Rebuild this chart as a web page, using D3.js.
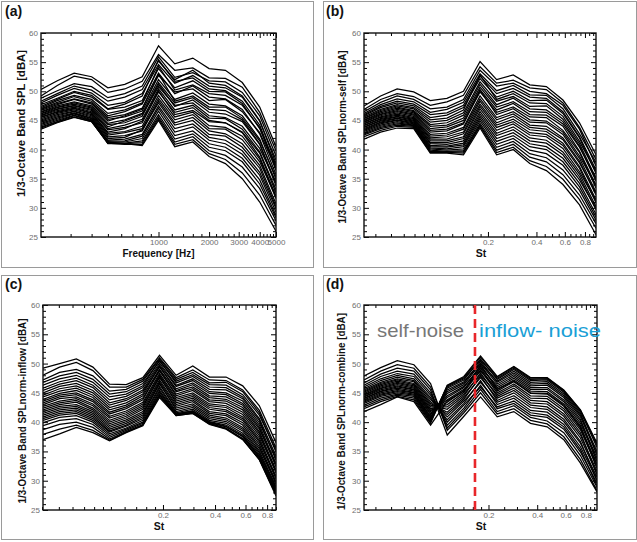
<!DOCTYPE html>
<html><head><meta charset="utf-8">
<script src="https://cdn.jsdelivr.net/npm/d3@7"></script>
<style>
body{margin:0;background:#fff}
svg{display:block}
text{font-family:"Liberation Sans",Arial,Helvetica,sans-serif}
</style>
</head><body>
<svg id="chart" width="637" height="542"></svg>
<script>
// ---------------- DATA ----------------
const freqA = [200,250,315,400,500,630,800,1000,1250,1600,2000,2500,3150,4000,5000];
const stB = [0.0340,0.0431,0.0546,0.0692,0.0877,0.1112,0.1409,0.1786,0.2264,0.2869,0.3636,0.4609,0.5841,0.7403,0.937];
const stC = [0.0405,0.0505,0.0631,0.0787,0.0982,0.1226,0.1530,0.1910,0.2383,0.2974,0.3712,0.4632,0.5781,0.7215,0.9004];
const stD = [0.0340,0.0431,0.0546,0.0692,0.0877,0.1112,0.1409,0.1786,0.2264,0.2869,0.3636,0.4609,0.5841,0.7403,0.937];

const splA = [
[50.3,51.8,53.1,52.5,50.6,51.2,52.5,57.8,54.7,55.7,53.9,53.6,51.5,47.3,40.5],
[49.2,51.0,52.6,52.0,49.8,50.4,51.7,56.3,53.6,54.0,52.3,52.2,50.7,46.4,39.8],
[48.8,50.1,51.3,50.8,48.9,49.6,50.9,55.9,52.4,53.2,51.8,51.6,49.8,45.8,38.9],
[48.3,49.6,50.9,50.2,48.3,49.0,50.3,55.2,52.0,53.6,51.4,51.0,49.2,45.0,37.6],
[48.0,49.3,50.5,49.7,47.6,48.1,49.6,54.6,51.4,52.7,50.9,50.6,49.0,44.9,38.2],
[47.7,48.8,50.0,49.3,47.0,47.8,49.2,55.4,51.7,52.3,50.4,50.1,48.3,44.2,36.9],
[47.4,48.6,49.8,49.0,46.9,47.3,48.4,53.9,50.6,51.8,50.0,49.9,47.9,43.6,37.3],
[47.2,48.4,49.3,48.6,46.2,46.8,48.0,54.3,50.2,51.1,49.6,49.3,47.6,43.8,36.4],
[47.0,48.1,49.1,48.3,45.8,46.5,47.8,53.1,49.6,50.9,49.0,48.7,46.9,42.7,35.7],
[46.9,47.9,48.7,48.0,45.5,46.0,47.1,52.7,49.9,50.4,48.4,48.6,46.5,42.9,36.8],
[46.7,47.7,48.6,47.8,45.2,45.6,46.6,52.0,48.6,49.7,47.8,47.5,45.8,41.8,34.9],
[46.5,47.5,48.2,47.5,44.9,45.8,46.9,53.0,48.3,49.2,47.3,47.3,45.4,41.5,35.3],
[46.4,47.3,48.0,47.3,44.5,45.1,46.2,51.5,48.0,48.9,46.9,46.7,45.1,41.0,34.2],
[46.2,47.2,47.8,47.1,44.3,44.6,45.7,51.2,47.4,48.5,46.4,46.1,44.8,40.9,33.8],
[46.1,47.0,47.6,46.9,43.9,44.9,46.0,50.8,47.6,48.0,45.8,45.5,44.0,40.2,34.4],
[45.9,46.9,47.5,46.7,43.6,44.2,45.2,50.4,46.8,47.6,45.4,45.3,43.5,39.6,33.1],
[45.8,46.7,47.3,46.5,43.4,43.8,44.6,49.9,46.4,47.2,45.0,44.6,43.0,39.4,32.6],
[45.6,46.5,47.1,46.3,43.0,43.6,44.9,50.1,46.0,46.7,44.8,44.6,42.9,38.7,32.0],
[45.5,46.4,47.0,46.2,42.8,43.1,44.0,49.3,45.6,46.4,44.1,43.8,42.3,38.4,31.6],
[45.3,46.2,46.8,46.0,42.5,42.9,43.6,48.8,45.1,46.0,43.6,43.5,41.7,37.9,31.9],
[45.1,46.0,46.6,45.8,42.2,42.4,43.2,48.4,44.6,45.5,43.2,42.7,41.0,37.3,30.7],
[44.9,45.8,46.5,45.6,41.9,42.1,43.4,48.0,44.2,45.0,42.6,42.3,40.4,36.8,30.2],
[44.7,45.6,46.3,45.4,41.6,41.8,42.6,47.5,43.6,44.4,42.1,41.6,39.8,36.1,29.9],
[44.5,45.4,46.2,45.3,41.4,41.5,42.3,47.1,43.0,43.9,41.6,41.0,39.2,35.6,29.3],
[44.3,45.2,46.1,45.1,41.2,41.3,41.9,46.6,42.4,43.2,41.0,40.4,38.5,34.8,28.7],
[44.1,45.0,45.9,45.0,41.1,41.1,41.5,46.0,41.8,42.7,40.4,39.8,37.9,34.1,28.3],
[43.9,44.8,45.8,44.9,41.0,41.0,41.2,45.6,41.3,42.2,39.8,39.0,37.0,33.3,27.8],
[43.7,44.7,45.6,44.8,41.1,40.9,40.9,45.3,40.9,41.7,39.3,38.3,36.0,32.2,27.0],
[43.5,44.6,45.5,44.8,41.2,41.0,40.7,45.0,40.5,41.3,38.8,37.6,35.0,31.0,26.0]
];

const splB = [
[47.5,49.2,50.4,49.9,48.4,48.8,50.0,55.1,52.0,52.8,51.1,50.8,48.5,44.6,39.1],
[46.9,48.6,49.6,49.1,47.6,48.2,49.3,54.2,51.4,51.9,50.6,50.3,48.0,43.8,38.3],
[46.5,48.1,49.2,48.6,47.0,47.3,48.6,53.6,50.9,51.4,50.0,49.6,47.6,43.5,37.2],
[46.2,47.7,48.7,48.2,46.4,46.9,48.1,53.0,50.1,51.0,49.4,49.3,47.0,42.7,37.8],
[46.0,47.4,48.3,47.8,46.0,46.3,47.6,52.6,49.6,50.5,49.0,48.8,46.5,42.2,36.5],
[45.8,47.2,48.0,47.5,45.5,45.9,47.2,52.2,49.0,50.0,48.4,48.5,46.2,42.0,35.9],
[45.6,46.9,47.7,47.2,45.1,45.4,46.8,52.8,48.6,49.6,48.0,47.9,45.7,41.4,36.2],
[45.4,46.7,47.5,47.0,44.7,45.0,46.3,51.6,48.3,49.1,47.4,47.5,45.2,41.0,35.1],
[45.3,46.5,47.3,46.7,44.3,44.6,45.9,51.2,47.7,48.8,47.0,46.8,44.8,40.6,34.6],
[45.1,46.3,47.1,46.5,44.0,44.2,45.4,50.7,47.3,48.2,46.5,46.4,44.4,40.4,35.0],
[45.0,46.1,46.9,46.3,43.6,43.9,45.0,50.3,46.8,47.9,46.0,45.9,44.0,39.7,33.9],
[44.8,46.0,46.7,46.1,43.3,43.5,44.6,49.9,46.4,47.3,45.6,45.5,43.3,39.5,33.4],
[44.7,45.8,46.5,45.9,43.0,43.2,44.4,50.2,46.0,47.0,45.1,44.9,43.0,38.9,33.8],
[44.5,45.6,46.3,45.7,42.6,42.8,43.8,49.2,45.5,46.5,44.7,44.6,42.6,38.5,32.7],
[44.4,45.5,46.1,45.5,42.3,42.5,43.5,48.7,45.1,46.1,44.2,44.0,42.0,38.0,32.2],
[44.2,45.3,45.9,45.3,42.0,42.2,43.0,48.3,44.6,45.7,43.8,43.5,41.7,37.7,32.5],
[44.1,45.2,45.7,45.2,41.8,41.8,42.7,47.8,44.2,45.2,43.4,43.1,41.1,37.1,31.4],
[43.9,45.0,45.6,45.0,41.5,41.5,42.2,47.4,43.8,44.8,42.9,42.6,40.7,36.8,30.9],
[43.8,44.9,45.4,44.9,41.2,41.2,41.9,47.0,43.3,44.4,42.5,42.2,40.2,36.2,31.2],
[43.6,44.7,45.3,44.7,41.0,40.9,41.5,46.5,42.8,43.9,42.0,41.6,39.6,35.8,30.2],
[43.4,44.6,45.1,44.6,40.7,40.6,41.1,46.1,42.4,43.4,41.5,41.1,39.1,35.3,29.7],
[43.3,44.4,45.0,44.4,40.5,40.4,40.8,45.7,41.9,42.9,41.0,40.5,38.5,34.8,29.9],
[43.1,44.2,44.8,44.3,40.3,40.1,40.5,45.3,41.4,42.4,40.5,40.0,37.9,34.2,28.9],
[42.9,44.0,44.6,44.2,40.1,39.9,40.1,44.9,40.9,41.9,39.9,39.3,37.3,33.6,28.4],
[42.7,43.8,44.4,44.1,39.9,39.7,39.8,44.5,40.4,41.4,39.3,38.6,36.5,33.0,27.9],
[42.5,43.6,44.2,44.0,39.7,39.6,39.6,44.2,39.9,40.9,38.7,37.9,35.7,32.2,27.3],
[42.2,43.3,44.0,43.8,39.5,39.5,39.4,44.0,39.5,40.4,38.1,37.1,34.9,31.4,26.5],
[41.8,43.0,43.7,43.6,39.4,39.4,39.1,43.7,39.1,40.0,37.6,36.4,34.0,30.5,25.4]
];

const splC = [
[49.2,50.0,50.8,49.4,46.5,46.4,47.6,51.4,48.0,49.6,47.7,47.7,46.2,42.8,36.5],
[48.0,49.4,50.2,48.8,46.0,46.0,47.3,51.0,47.6,48.9,47.2,47.1,45.5,42.0,35.6],
[47.2,48.5,49.0,47.9,45.3,45.6,47.0,50.8,47.3,48.5,46.7,46.8,45.2,41.6,34.9],
[46.8,47.9,48.5,47.3,44.8,45.2,46.6,50.4,47.0,48.1,46.4,46.3,44.7,41.2,35.2],
[46.3,47.4,48.0,46.8,44.3,44.8,46.2,50.6,46.7,47.8,46.0,45.9,44.3,40.6,34.2],
[45.8,46.9,47.5,46.3,43.8,44.4,45.9,50.1,46.3,47.4,45.6,45.5,44.0,40.3,33.5],
[45.4,46.5,47.1,45.9,43.3,44.0,45.5,49.8,46.1,47.1,45.2,45.0,43.6,39.9,33.9],
[45.0,46.1,46.6,45.4,42.9,43.7,45.2,49.4,45.7,46.7,44.9,44.7,43.2,39.5,32.9],
[44.6,45.7,46.2,45.0,42.5,43.3,44.8,49.6,45.4,46.4,44.5,44.3,42.9,39.1,32.4],
[44.3,45.3,45.8,44.6,42.1,42.9,44.5,49.0,45.2,46.0,44.2,43.9,42.5,38.8,32.8],
[43.9,44.9,45.4,44.2,41.7,42.6,44.1,48.7,44.8,45.7,43.8,43.6,42.1,38.4,31.8],
[43.6,44.6,45.0,43.8,41.4,42.3,43.8,48.9,44.5,45.4,43.5,43.2,41.7,38.1,31.3],
[43.3,44.3,44.7,43.5,41.0,41.9,43.4,48.3,44.2,45.0,43.1,42.8,41.3,37.7,31.6],
[43.0,44.0,44.3,43.1,40.7,41.6,43.1,48.0,43.9,44.7,42.8,42.5,40.9,37.3,30.7],
[42.7,43.6,44.0,42.8,40.3,41.3,42.8,47.6,43.6,44.4,42.5,42.1,40.6,36.9,30.3],
[42.4,43.3,43.7,42.4,40.0,41.0,42.5,47.8,43.3,44.1,42.2,41.8,40.3,36.6,30.6],
[42.1,43.0,43.4,42.1,39.7,40.7,42.2,47.2,43.0,43.8,41.8,41.4,39.9,36.2,29.8],
[41.8,42.7,43.0,41.8,39.4,40.4,41.8,46.9,42.7,43.5,41.5,41.1,39.5,35.8,29.4],
[41.5,42.4,42.7,41.5,39.1,40.1,41.5,46.5,42.4,43.1,41.2,40.7,39.1,35.5,29.7],
[41.2,42.1,42.4,41.2,38.8,39.8,41.2,46.7,42.1,42.8,40.9,40.4,38.8,35.1,29.0],
[40.9,41.8,42.1,40.9,38.5,39.5,40.9,46.1,41.8,42.5,40.6,40.1,38.5,34.8,28.6],
[40.6,41.5,41.8,40.6,38.3,39.3,40.6,45.8,41.6,42.2,40.3,39.8,38.1,34.5,28.9],
[40.3,41.2,41.5,40.3,38.0,39.0,40.3,45.4,41.4,41.9,40.1,39.5,37.8,34.2,28.2],
[39.9,40.8,41.1,40.0,37.7,38.8,40.0,45.1,41.3,41.7,39.9,39.2,37.5,33.9,27.8],
[39.4,40.3,40.6,39.6,37.4,38.6,39.8,44.8,41.2,41.6,39.8,39.0,37.2,33.7,28.1],
[38.7,39.6,40.0,39.1,37.1,38.4,39.6,44.5,41.1,41.5,39.7,38.9,37.1,33.6,27.6],
[37.9,38.8,39.5,38.6,36.9,38.3,39.5,44.6,41.4,41.9,40.0,39.3,37.6,34.1,28.4],
[37.0,38.0,39.1,38.2,36.8,38.2,39.4,44.2,41.1,41.5,39.6,38.8,37.0,33.6,27.4]
];

const splD = [
[47.9,49.3,50.5,49.8,46.6,38.6,41.6,45.0,41.4,42.3,40.3,39.7,37.5,33.6,28.3],
[47.2,48.7,49.8,49.2,46.0,39.0,42.0,45.6,41.8,42.8,40.8,40.2,38.2,34.3,28.9],
[46.7,48.2,49.2,48.7,45.5,37.8,41.0,44.3,40.9,41.8,39.8,39.2,37.0,33.0,28.1],
[46.3,47.8,48.7,48.2,45.0,39.5,42.4,46.3,42.3,43.2,41.2,40.8,38.8,34.9,29.6],
[46.0,47.4,48.3,47.8,44.6,40.0,42.9,46.0,42.6,43.6,41.6,41.2,39.2,35.3,29.2],
[45.7,47.1,48.0,47.4,44.2,40.4,43.2,47.1,43.0,44.1,42.0,41.7,39.6,35.8,30.1],
[45.5,46.8,47.7,47.1,43.9,40.9,43.6,46.8,43.4,44.5,42.5,42.2,40.1,36.4,30.6],
[45.3,46.6,47.4,46.9,43.5,41.3,43.9,47.9,43.7,45.0,42.9,42.6,40.5,36.7,30.0],
[45.1,46.4,47.2,46.6,43.2,41.7,44.2,47.6,44.1,45.4,43.3,43.1,41.0,37.3,31.2],
[44.9,46.2,47.0,46.4,42.9,42.2,44.5,48.4,44.4,45.8,43.7,43.5,41.4,37.8,31.6],
[44.7,46.0,46.8,46.2,42.6,42.6,44.8,48.1,44.7,46.2,44.1,44.0,41.9,38.2,31.0],
[44.6,45.8,46.6,46.0,42.3,43.0,45.1,48.9,45.0,46.5,44.5,44.4,42.3,38.7,32.3],
[44.4,45.7,46.4,45.8,42.0,43.4,45.4,49.2,45.3,46.9,44.9,44.8,42.7,39.1,32.7],
[44.3,45.5,46.2,45.6,41.8,43.8,45.6,48.7,45.6,47.2,45.3,45.2,43.1,39.4,32.1],
[44.1,45.3,46.0,45.5,41.5,44.2,45.9,49.6,45.9,47.5,45.6,45.6,43.5,39.8,33.4],
[44.0,45.2,45.8,45.3,41.3,44.5,46.1,49.3,46.2,47.8,45.9,45.9,43.8,40.2,33.9],
[43.8,45.0,45.6,45.1,41.0,44.9,46.4,50.0,46.5,48.1,46.2,46.3,44.2,40.5,33.3],
[43.6,44.8,45.4,45.0,40.8,45.2,46.7,50.4,46.8,48.4,46.5,46.6,44.5,40.9,34.5],
[43.4,44.6,45.2,44.8,40.6,45.5,46.9,50.1,47.0,48.7,46.8,46.9,44.8,41.2,35.0],
[43.2,44.4,45.0,44.6,40.4,45.8,47.2,50.8,47.3,49.0,47.1,47.2,45.1,41.5,34.4],
[42.9,44.1,44.8,44.4,40.2,46.0,47.4,50.6,47.5,49.2,47.3,47.4,45.3,41.8,35.7],
[42.6,43.8,44.6,44.1,40.0,46.2,47.6,51.1,47.7,49.4,47.5,47.5,45.4,42.0,36.1],
[42.3,43.5,44.4,43.8,39.8,46.3,47.8,51.3,47.8,49.5,47.6,47.6,45.5,42.1,36.4],
[41.8,43.0,44.3,43.5,39.5,43.6,45.3,49.8,45.6,47.0,45.0,44.9,42.9,39.0,32.9]
];

const yTicksMajor = [25,30,35,40,45,50,55,60];
const yTicksMinor = [26,27,28,29,31,32,33,34,36,37,38,39,41,42,43,44,46,47,48,49,51,52,53,54,56,57,58,59];
const freqTicksMajor = [1000,2000,3000,4000,5000];
const freqTicksMinor = [300,400,500,600,700,800,900,1200,1400,1600,1800,2200,2400,2600,2800,3200,3400,3600,3800,4200,4400,4600,4800];
const stTicksMajor = [0.2,0.4,0.6,0.8];
const stTicksMinor = [0.04,0.05,0.06,0.07,0.08,0.09,0.1,0.12,0.14,0.16,0.18,0.25,0.3,0.35,0.45,0.5,0.55,0.65,0.7,0.75,0.85,0.9];
const splitSt = 0.165;

const panelLabels = ["(a)","(b)","(c)","(d)"];
const yTitles = ["1/3-Octave Band SPL [dBA]","1/3-Octave Band SPLnorm-self [dBA]","1/3-Octave Band SPLnorm-inflow [dBA]","1/3-Octave Band SPLnorm-combine [dBA]"];
const xTitles = ["Frequency [Hz]","St","St","St"];
const regionLabels = ["self-noise","inflow- noise"];

// ---------------- LAYOUT ----------------
const svg = d3.select("#chart");
svg.append("rect").attr("width",637).attr("height",542).attr("fill","#fff");

const panels = [
 {box:[1,1,313,267], L:41, R:276, T:33, B:237, dom:[200,5000], xs:freqA, rows:splA, maj:freqTicksMajor, min:freqTicksMinor, fmt:d3.format("d"), lab:[5,16], yt:[25,123.5,147], xt:[158.5,257,72]},
 {box:[323,1,636,267], L:364, R:596, T:33, B:237, dom:[0.034,0.937], xs:stB, rows:splB, maj:stTicksMajor, min:stTicksMinor, fmt:d3.format(".1f"), lab:[326,16], yt:[346,137,173], xt:[481,257,null]},
 {box:[1,275,313,539], L:43, R:276, T:305, B:510, dom:[0.0405,0.9004], xs:stC, rows:splC, maj:stTicksMajor, min:stTicksMinor, fmt:d3.format(".1f"), lab:[5,289], yt:[26,411,185], xt:[159,530,null]},
 {box:[323,275,636,539], L:364, R:597, T:305, B:510, dom:[0.034,0.937], xs:stD, rows:splD, maj:stTicksMajor, min:stTicksMinor, fmt:d3.format(".1f"), lab:[326,289], yt:[345,411.5,197], xt:[481,530,null]}
];

panels.forEach((p,pi)=>{
  const g = svg.append("g");
  g.append("rect").attr("x",p.box[0]+0.5).attr("y",p.box[1]+0.5)
    .attr("width",p.box[2]-p.box[0]).attr("height",p.box[3]-p.box[1])
    .attr("fill","none").attr("stroke","#9a9a9a").attr("stroke-width",1);

  const x = d3.scaleLog().domain(p.dom).range([p.L,p.R]);
  const y = d3.scaleLinear().domain([25,60]).range([p.B,p.T]);

  const cid = "clip"+pi;
  svg.append("clipPath").attr("id",cid).append("rect")
    .attr("x",p.L).attr("y",p.T).attr("width",p.R-p.L).attr("height",p.B-p.T);

  const line = d3.line().x((d,i)=>x(p.xs[i])).y(d=>y(d));
  g.append("g").attr("clip-path",`url(#${cid})`)
    .selectAll("path").data(p.rows).join("path")
    .attr("d",line).attr("fill","none").attr("stroke","#000")
    .attr("stroke-width",1.25).attr("stroke-linejoin","miter");

  // axes
  const addAxis = (axis, tx, ty, labels) => {
    const a = g.append("g").attr("transform",`translate(${tx},${ty})`).call(axis);
    a.select(".domain").remove();
    a.selectAll("line").attr("stroke","#000").attr("stroke-width",1);
    a.selectAll("text").attr("fill","#6e6e6e").style("font-size","8px")
      .style("font-family","'Liberation Sans',Arial,sans-serif");
    if(!labels) a.selectAll("text").remove();
    return a;
  };
  addAxis(d3.axisBottom(x).tickValues(p.maj).tickSizeInner(-5).tickSizeOuter(0).tickPadding(2).tickFormat(p.fmt),0,p.B,true);
  addAxis(d3.axisBottom(x).tickValues(p.min).tickSizeInner(-3).tickSizeOuter(0).tickFormat(""),0,p.B,false);
  addAxis(d3.axisTop(x).tickValues(p.maj).tickSizeInner(-5).tickSizeOuter(0).tickFormat(""),0,p.T,false);
  addAxis(d3.axisTop(x).tickValues(p.min).tickSizeInner(-3).tickSizeOuter(0).tickFormat(""),0,p.T,false);
  addAxis(d3.axisLeft(y).tickValues(yTicksMajor).tickSizeInner(-5).tickSizeOuter(0).tickPadding(3).tickFormat(d3.format("d")),p.L,0,true);
  addAxis(d3.axisLeft(y).tickValues(yTicksMinor).tickSizeInner(-3).tickSizeOuter(0).tickFormat(""),p.L,0,false);
  addAxis(d3.axisRight(y).tickValues(yTicksMajor).tickSizeInner(-5).tickSizeOuter(0).tickFormat(""),p.R,0,false);
  addAxis(d3.axisRight(y).tickValues(yTicksMinor).tickSizeInner(-3).tickSizeOuter(0).tickFormat(""),p.R,0,false);

  // frame
  g.append("rect").attr("x",p.L).attr("y",p.T).attr("width",p.R-p.L).attr("height",p.B-p.T)
    .attr("fill","none").attr("stroke","#111").attr("stroke-width",1.4);

  // panel label
  g.append("text").attr("x",p.lab[0]).attr("y",p.lab[1]).text(panelLabels[pi])
    .style("font-size","14px").style("font-weight","bold").attr("fill","#111");

  // y title
  g.append("text").attr("transform",`translate(${p.yt[0]},${p.yt[1]}) rotate(-90)`)
    .attr("text-anchor","middle").text(yTitles[pi])
    .attr("textLength",p.yt[2]).attr("lengthAdjust","spacingAndGlyphs")
    .style("font-size","10.5px").style("font-weight","bold").attr("fill","#111");

  // x title
  const xt = g.append("text").attr("x",p.xt[0]).attr("y",p.xt[1]).attr("text-anchor","middle")
    .text(xTitles[pi]).style("font-size","10.5px").style("font-weight","bold").attr("fill","#111");
  if(p.xt[2]) xt.attr("textLength",p.xt[2]).attr("lengthAdjust","spacingAndGlyphs");

  if(pi===3){
    g.append("line").attr("x1",x(splitSt)).attr("x2",x(splitSt)).attr("y1",p.T).attr("y2",p.B)
      .attr("stroke","#e8262a").attr("stroke-width",2.6).attr("stroke-dasharray","9,5");
    g.append("text").attr("x",377).attr("y",337).text(regionLabels[0])
      .attr("textLength",87).attr("lengthAdjust","spacingAndGlyphs")
      .style("font-size","19px").attr("fill","#777");
    g.append("text").attr("x",479).attr("y",337).text(regionLabels[1])
      .attr("textLength",122).attr("lengthAdjust","spacingAndGlyphs")
      .style("font-size","19px").attr("fill","#1a9fd6");
  }
});
</script>
</body></html>
